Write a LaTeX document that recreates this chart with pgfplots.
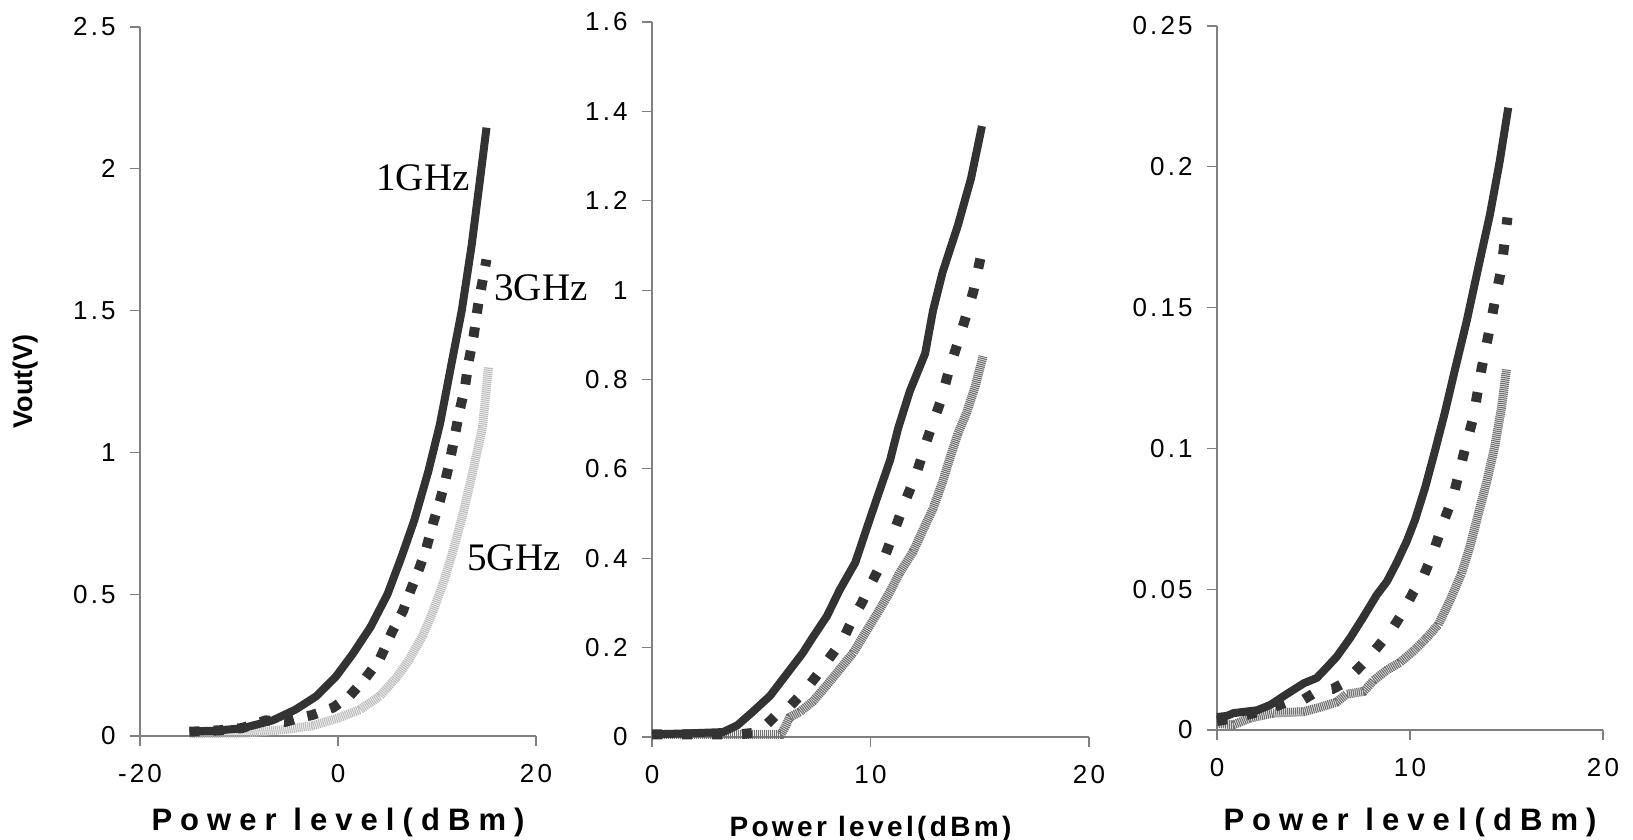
\documentclass[border=0pt]{standalone}
\usepackage{fontspec}
\setmainfont{Liberation Sans}
\newfontfamily\timesfont{Liberation Serif}
\newfontfamily\labfont[LetterSpace=26]{Liberation Sans}
\newfontfamily\labfontb[LetterSpace=12]{Liberation Sans}
\newfontfamily\ticfont[LetterSpace=12]{Liberation Sans}
\usepackage{pgfplots}
\pgfplotsset{compat=1.18}
\definecolor{dk}{HTML}{333333}
\definecolor{lg}{HTML}{BDBDBD}
\definecolor{mg}{HTML}{707070}
\definecolor{ax}{HTML}{808080}
\pgfplotsset{
 myax/.style={
  scale only axis,
  anchor=south west,
  axis x line=bottom, axis y line=left,
  axis line style={-, ax, line width=0.6pt},
  tick style={ax, line width=0.6pt},
  tick align=outside,
  major tick length=5pt,
  enlargelimits=false,
  clip=false,
  tick label style={font=\ticfont\fontsize{13}{15}\selectfont},
  /pgf/number format/assume math mode=true,
  yticklabel style={anchor=east, inner sep=0pt, xshift=-7pt},
  xticklabel style={anchor=north, inner sep=0pt, yshift=-9pt},
 },
 l1/.style={dk, line width=4pt, line join=round},
 l3/.style={dk, line width=5pt, dash pattern=on 5pt off 7pt},
 l5/.style={line width=4.5pt, dash pattern=on 0.6pt off 0.4pt},
}
\begin{document}
\begin{tikzpicture}
\useasboundingbox (0,0) rectangle (816.5pt,420pt);
% ---------------- Panel 1 ----------------
\begin{axis}[myax, at={(70pt,52pt)}, width=198pt, height=354.5pt,
  xmin=-20, xmax=20, ymin=0, ymax=2.5,
  xtick={-20,0,20}, ytick={0,0.5,1,1.5,2,2.5},
  yticklabels={0,0.5,1,1.5,2,2.5},
  xlabel={\labfont\bfseries\fontsize{15.5}{17}\selectfont Power level(dBm)},
  xlabel style={at={(axis description cs:0.5,0)}, anchor=center, yshift=-43pt, inner sep=0pt},
  ylabel={\bfseries\fontsize{13.5}{15}\selectfont Vout(V)},
  ylabel style={at={(axis description cs:-0.29,0.5)}, anchor=center, inner sep=0pt},
]
\addplot[l5, lg] coordinates {(-15,0.008) (-9,0.011) (-5.3,0.023) (-2.6,0.036) (0.1,0.064) (2.2,0.093) (4.2,0.14) (5.9,0.206) (7.2,0.27) (8.6,0.357) (9.6,0.44) (10.6,0.536) (11.6,0.65) (12.6,0.78) (13.6,0.93) (14.6,1.09) (15.2,1.3)};
\addplot[l3] coordinates {(-15,0.015) (-12,0.02) (-9.7,0.028) (-7.3,0.055) (-5.3,0.05) (-3.9,0.064) (-2.6,0.074) (-0.5,0.10) (1.15,0.14) (2.8,0.205) (4.2,0.27) (5.5,0.37) (6.55,0.44) (7.4,0.52) (8.2,0.59) (8.9,0.66) (9.6,0.75) (10.3,0.83) (10.8,0.895) (11.3,0.97) (11.8,1.06) (12.3,1.15) (12.8,1.225) (13.2,1.32) (13.7,1.41) (14.15,1.52) (15,1.68)};
\addplot[l1] coordinates {(-15,0.017) (-12.7,0.018) (-9.7,0.027) (-6.6,0.055) (-4.3,0.093) (-2.2,0.14) (-0.2,0.21) (1.5,0.29) (3.3,0.385) (5.0,0.50) (6.4,0.63) (7.7,0.76) (9.1,0.93) (10.3,1.10) (11.45,1.31) (12.5,1.50) (13.5,1.73) (14.3,1.95) (15,2.145)};
\node[font=\timesfont\fontsize{19.5}{20}\selectfont, inner sep=0pt] at (axis cs:8.59,1.968) {1GHz};
\node[font=\timesfont\fontsize{19.5}{20}\selectfont, inner sep=0pt] at (axis cs:20.5,1.58) {3GHz};
\node[font=\timesfont\fontsize{19.5}{20}\selectfont, inner sep=0pt] at (axis cs:17.78,0.628) {5GHz};
\end{axis}
% ---------------- Panel 2 ----------------
\begin{axis}[myax, at={(326pt,51.5pt)}, width=218.5pt, height=357.5pt,
  xmin=0, xmax=20, ymin=0, ymax=1.6,
  xtick={0,10,20}, ytick={0,0.2,0.4,0.6,0.8,1,1.2,1.4,1.6},
  yticklabels={0,0.2,0.4,0.6,0.8,1,1.2,1.4,1.6},
  xlabel={\labfontb\bfseries\fontsize{14}{16}\selectfont Power level(dBm)},
  xlabel style={at={(axis description cs:0.5,0)}, anchor=center, yshift=-46pt, inner sep=0pt},
]
\addplot[l5, mg] coordinates {(0,0.006) (5.9,0.006) (6.07,0.02) (6.3,0.044) (6.76,0.056) (7.37,0.08) (8.0,0.116) (8.6,0.152) (9.2,0.188) (9.8,0.236) (10.4,0.284) (10.9,0.326) (11.33,0.367) (11.95,0.415) (12.4,0.463) (12.86,0.511) (13.3,0.571) (13.6,0.619) (14.0,0.679) (14.4,0.726) (14.8,0.786) (15.15,0.852)};
\addplot[l3, dash pattern=on 5pt off 10pt] coordinates {(0,0.006) (4,0.006) (5.0,0.011) (5.2,0.026) (5.7,0.05) (6.3,0.068) (6.76,0.092) (7.2,0.116) (7.67,0.146) (8.2,0.182) (8.74,0.218) (9.2,0.266) (9.6,0.30) (10.1,0.35) (10.65,0.403) (11.1,0.463) (11.6,0.529) (12.1,0.589) (12.6,0.667) (13.2,0.75) (13.6,0.822) (14.15,0.906) (14.7,0.996) (15.2,1.11)};
\addplot[l1] coordinates {(0,0.006) (1.6,0.008) (3.25,0.011) (3.9,0.026) (4.6,0.056) (5.4,0.092) (6.15,0.14) (6.9,0.188) (7.37,0.224) (8.0,0.27) (8.6,0.33) (9.3,0.39) (9.8,0.463) (10.3,0.535) (10.9,0.62) (11.26,0.69) (11.8,0.774) (12.5,0.858) (12.86,0.954) (13.3,1.04) (14.0,1.145) (14.6,1.25) (15.1,1.367)};
\end{axis}
% ---------------- Panel 3 ----------------
\begin{axis}[myax, at={(608.5pt,55pt)}, width=193pt, height=352pt,
  xmin=0, xmax=20, ymin=0, ymax=0.25,
  xtick={0,10,20}, ytick={0,0.05,0.1,0.15,0.2,0.25},
  yticklabels={0,0.05,0.1,0.15,0.2,0.25},
  xlabel={\labfont\bfseries\fontsize{15.5}{17}\selectfont Power level(dBm)},
  xlabel style={at={(axis description cs:0.5,0)}, anchor=center, yshift=-46pt, inner sep=0pt},
]
\addplot[l5, mg] coordinates {(0,0.0023) (0.86,0.0019) (1.7,0.0042) (2.9,0.006) (4.48,0.0065) (5.3,0.008) (6.2,0.0099) (6.7,0.0127) (7.6,0.0137) (8.1,0.0175) (8.8,0.0213) (9.48,0.024) (10.17,0.028) (10.86,0.0327) (11.47,0.0375) (12.07,0.046) (12.67,0.0556) (13.1,0.065) (13.53,0.0765) (13.97,0.088) (14.4,0.101) (14.74,0.1145) (15.0,0.128)};
\addplot[l3, dash pattern=on 5pt off 10pt] coordinates {(0,0.0032) (0.86,0.0042) (1.9,0.006) (2.76,0.0076) (3.6,0.0099) (4.48,0.0108) (5.17,0.0137) (6.0,0.0146) (6.55,0.0166) (7.24,0.0213) (7.9,0.026) (8.6,0.0318) (9.14,0.0365) (9.66,0.0422) (10.17,0.0489) (10.7,0.0546) (11.2,0.063) (11.72,0.0736) (12.24,0.083) (12.76,0.0974) (13.28,0.111) (13.7,0.128) (14.14,0.143) (14.5,0.156) (14.74,0.164) (15.05,0.182)};
\addplot[l1] coordinates {(0,0.0046) (0.5,0.005) (0.86,0.006) (2.07,0.007) (2.76,0.0089) (3.6,0.0127) (4.5,0.0166) (5.17,0.0185) (5.7,0.0223) (6.2,0.026) (6.9,0.0327) (7.6,0.0403) (8.28,0.048) (8.8,0.0527) (9.31,0.0594) (9.83,0.067) (10.26,0.0746) (10.78,0.086) (11.3,0.0993) (11.8,0.1126) (12.33,0.128) (12.93,0.145) (13.53,0.164) (14.14,0.183) (14.65,0.202) (15.09,0.221)};
\end{axis}
\end{tikzpicture}
\end{document}
